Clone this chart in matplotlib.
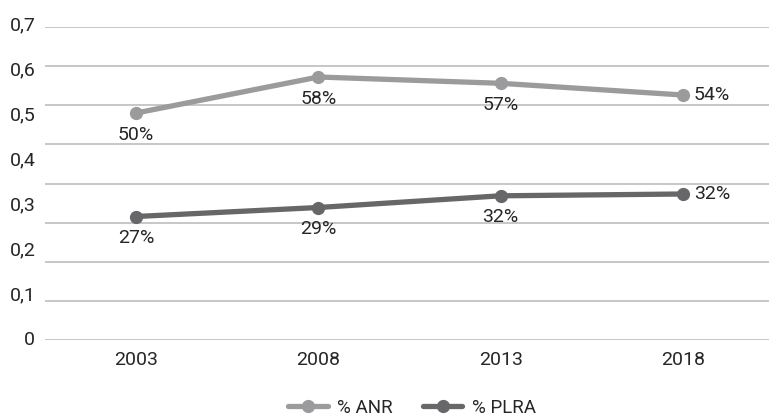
import numpy as np
import matplotlib
matplotlib.use("Agg")
import matplotlib.pyplot as plt

years = ["2003", "2008", "2013", "2018"]
anr = [0.50, 0.58, 0.566, 0.54]
plra = [0.27, 0.29, 0.316, 0.32]
y_ticks = [0, 0.1, 0.2, 0.3, 0.4, 0.5, 0.6, 0.7]
y_tick_labels = ["0", "0,1", "0,2", "0,3", "0,4", "0,5", "0,6", "0,7"]

plt.rcParams["font.family"] = ["Roboto", "DejaVu Sans"]
text_color = "#262626"
anr_color = "#9b9b9d"
plra_color = "#67676a"
grid_color = "#c3c3c3"

fig = plt.figure(figsize=(7.69, 4.20), dpi=100)
W, H = 769, 420

# background grid lives on its own axes
gx = fig.add_axes([45 / W, (H - 340) / H, 729 / W, 313 / H])
gx.set_ylim(0, 0.8)
gx.set_yticks(np.arange(0, 0.81, 0.1))
gx.set_xticks([])
gx.yaxis.grid(True, color=grid_color, linewidth=1.3)
gx.tick_params(axis="y", length=0, labelleft=False)
for s in gx.spines.values():
    s.set_visible(False)

# data axes
ax = fig.add_axes([45 / W, (H - 345) / H, 729 / W, 325 / H])
ax.patch.set_alpha(0)
ax.set_xlim(-0.5, 3.5)
ax.set_ylim((338 - 345) / 450, (338 - 20) / 450)
for s in ax.spines.values():
    s.set_visible(False)

x = np.arange(len(years))
ax.plot(x, anr, color=anr_color, linewidth=3.8, marker="o", markersize=8.5,
        label="% ANR", solid_capstyle="round")
ax.plot(x, plra, color=plra_color, linewidth=3.8, marker="o", markersize=8.5,
        label="% PLRA", solid_capstyle="round")

fs = 14
for series in (anr, plra):
    for i, v in enumerate(series):
        lbl = f"{v * 100:.0f}%"
        if i < len(series) - 1:
            ax.annotate(lbl, (x[i], v), xytext=(0, -9), textcoords="offset points",
                        ha="center", va="top", fontsize=fs, color=text_color)
        else:
            ax.annotate(lbl, (x[i], v), xytext=(8, 0), textcoords="offset points",
                        ha="left", va="center", fontsize=fs, color=text_color)

ax.set_xticks(x)
ax.set_xticklabels(years)
ax.set_yticks(y_ticks)
ax.set_yticklabels(y_tick_labels)
ax.tick_params(axis="x", length=0, pad=4, labelsize=fs, labelcolor=text_color)
ax.tick_params(axis="y", length=0, pad=7, labelsize=fs, labelcolor=text_color)

fig.legend(loc="center", bbox_to_anchor=(412 / W, (H - 408) / H), ncol=2,
           frameon=False, fontsize=fs - 0.5, handlelength=2.1, columnspacing=1.6,
           handletextpad=0.5, labelcolor=text_color)

fig.savefig("out.png", dpi=100)
